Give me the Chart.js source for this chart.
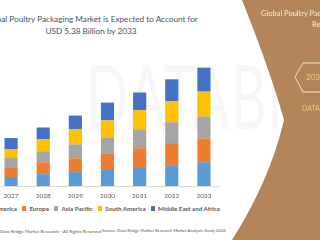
<!DOCTYPE html>
<html>
<head>
<meta charset="utf-8">
<script src="https://cdn.jsdelivr.net/npm/chart.js@4"></script>
<style>
  html, body { margin: 0; padding: 0; }
  body { width: 320px; height: 240px; overflow: hidden; position: relative; background: #fff; font-family: Lato, "Open Sans", sans-serif; }
  .abs { position: absolute; white-space: nowrap; }
  #watermark { left: 86px; top: 40px; font-size: 90px; color: rgba(0,0,0,0.035); letter-spacing: 1px; transform-origin: 0 0; transform: scaleX(0.62); }
  #title { left: -109px; top: 13px; width: 400px; text-align: center; font-size: 8.2px; line-height: 12px; color: #44546a; }
  #chart { position: absolute; left: -5px; top: 54px; }
  #legend { left: -31px; top: 205px; font-size: 6.2px; font-weight: bold; color: #595959; display: flex; align-items: center; }
  #legend span.item { display: flex; align-items: center; margin-right: 5px; }
  #legend i { display: inline-block; width: 4.5px; height: 4.5px; margin-right: 3px; }
  .foot { top: 228px; font-size: 4.6px; color: #555; }
  #panel { position: absolute; left: 0; top: 0; }
  .ptxt { color: #f6e9d8; font-size: 7.5px; }
  .gold { color: #f2c86c; }
</style>
</head>
<body>
<div id="watermark" class="abs">DATABRIDGE</div>
<div id="title" class="abs">Global Poultry Packaging Market is Expected to Account for<br>USD 5.38 Billion by 2033</div>
<canvas id="chart" width="225" height="146"></canvas>
<div id="legend" class="abs"></div>
<div class="abs foot" style="left:-5px">© Data Bridge Market Research - All Rights Reserved</div>
<div class="abs foot" style="left:102px; font-size:4.3px">Source: Data Bridge Market Research Market Analysis Study 2026</div>

<svg id="panel" width="320" height="240">
  <path d="M242 0 Q270 70 284 120 Q270 180 232 240 L320 240 L320 0 Z" fill="#b38559"/>
  <polygon points="295,77 303,63 322,63 322,92 303,92" fill="none" stroke="#f3e2c8" stroke-width="1"/>
</svg>
<div class="abs ptxt" style="left:261px; top:9px">Global Poultry Packaging Market</div>
<div class="abs ptxt" style="left:312px; top:20px">Report</div>
<div class="abs gold" style="left:306px; top:72px; font-size:8px">2033</div>
<div class="abs gold" style="left:302px; top:104px; font-size:7px">DATA</div>

<script>
const years = ["2027", "2028", "2029", "2030", "2031", "2032", "2033"];
const regions = ["North America", "Europe", "Asia Pacific", "South America", "Middle East and Africa"];
const colors = ["#5b9bd5", "#ed7d31", "#a5a5a5", "#ffc000", "#4472c4"];

// USD billion
const northAmerica = [0.41, 0.54, 0.63, 0.77, 0.86, 0.95, 1.08];
const europe = [0.41, 0.54, 0.63, 0.72, 0.86, 1.00, 1.08];
const asiaPacific = [0.45, 0.50, 0.63, 0.72, 0.86, 0.95, 1.00];
const southAmerica = [0.41, 0.54, 0.68, 0.77, 0.86, 0.95, 1.13];
const middleEastAfrica = [0.50, 0.54, 0.63, 0.81, 0.81, 1.00, 1.09];

const series = [northAmerica, europe, asiaPacific, southAmerica, middleEastAfrica];

// legend
const legend = document.getElementById("legend");
regions.forEach((name, i) => {
  const item = document.createElement("span");
  item.className = "item";
  item.innerHTML = '<i style="background:' + colors[i] + '"></i>' + name;
  legend.appendChild(item);
});

const ctx = document.getElementById("chart");
new Chart(ctx, {
  type: "bar",
  data: {
    labels: years,
    datasets: series.map((d, i) => ({
      label: regions[i],
      data: d,
      backgroundColor: colors[i],
      borderWidth: 0,
      categoryPercentage: 1,
      barPercentage: 0.41,
    })),
  },
  options: {
    responsive: false,
    animation: false,
    layout: { padding: 0 },
    plugins: {
      legend: { display: false },
      tooltip: { enabled: false },
    },
    scales: {
      x: {
        stacked: true,
        grid: { display: false, drawTicks: false },
        border: { display: true, color: "#d9d9d9" },
        ticks: { color: "#595959", font: { size: 6.5, family: "Lato" }, padding: 6 },
        afterFit: (scale) => { scale.height = 14; },
      },
      y: {
        stacked: true,
        display: false,
        min: 0,
        max: 6,
      },
    },
  },
});
</script>
</body>
</html>
